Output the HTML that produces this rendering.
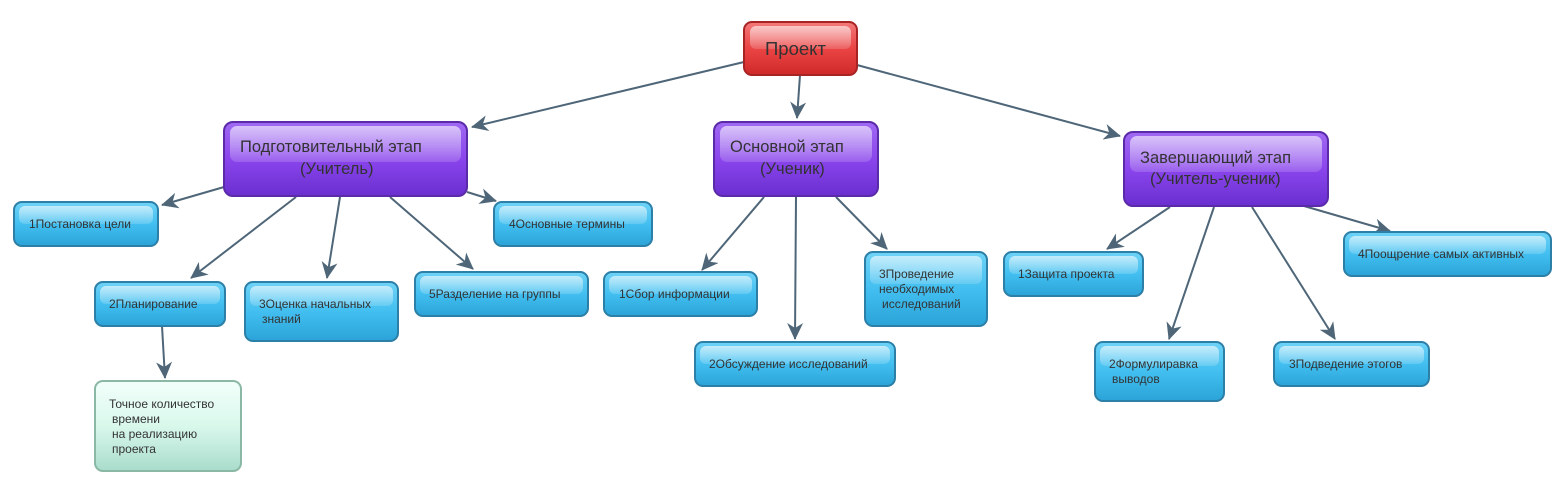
<!DOCTYPE html>
<html><head><meta charset="utf-8"><style>
html,body{margin:0;padding:0;background:#fff;}
svg{display:block;font-family:"Liberation Sans",sans-serif;}
.s{font-size:12px;fill:#333;}
.b{font-size:16.5px;fill:#333;}
</style></head><body>
<svg width="1562" height="482" viewBox="0 0 1562 482" xmlns="http://www.w3.org/2000/svg">
<defs>
<linearGradient id="gb" x1="0" y1="0" x2="0" y2="1"><stop offset="0" stop-color="#6fd3f7"/><stop offset="0.5" stop-color="#42bff0"/><stop offset="1" stop-color="#2ba3d8"/></linearGradient>
<linearGradient id="gp" x1="0" y1="0" x2="0" y2="1"><stop offset="0" stop-color="#a06af2"/><stop offset="0.5" stop-color="#8a45ec"/><stop offset="1" stop-color="#6a2fd0"/></linearGradient>
<linearGradient id="gr" x1="0" y1="0" x2="0" y2="1"><stop offset="0" stop-color="#f47a7a"/><stop offset="0.5" stop-color="#ea4444"/><stop offset="1" stop-color="#cf2a2a"/></linearGradient>
<linearGradient id="gg" x1="0" y1="0" x2="0" y2="1"><stop offset="0" stop-color="#f2fffa"/><stop offset="0.5" stop-color="#d9f8ec"/><stop offset="1" stop-color="#a9dccb"/></linearGradient>
<linearGradient id="hl" x1="0" y1="0" x2="0" y2="1"><stop offset="0" stop-color="#fff" stop-opacity="0.6"/><stop offset="1" stop-color="#fff" stop-opacity="0.15"/></linearGradient>
<marker id="ar" markerWidth="18" markerHeight="16" refX="16" refY="8" orient="auto" markerUnits="userSpaceOnUse"><path d="M0,0 L17,8 L0,16 L5,8 z" fill="#4e6678"/></marker>
</defs>
<g stroke="#4e6678" stroke-width="2" fill="none" marker-end="url(#ar)">
<line x1="744" y1="62" x2="472" y2="127"/>
<line x1="800" y1="75" x2="797" y2="118"/>
<line x1="857" y1="65" x2="1120" y2="136"/>
<line x1="224" y1="187" x2="162" y2="205"/>
<line x1="296" y1="197" x2="191" y2="278"/>
<line x1="340" y1="197" x2="327" y2="278"/>
<line x1="390" y1="197" x2="473" y2="269"/>
<line x1="467" y1="192" x2="496" y2="201"/>
<line x1="162" y1="326" x2="165" y2="378"/>
<line x1="764" y1="197" x2="702" y2="270"/>
<line x1="796" y1="197" x2="795" y2="339"/>
<line x1="836" y1="197" x2="887" y2="249"/>
<line x1="1170" y1="207" x2="1107" y2="249"/>
<line x1="1214" y1="207" x2="1169" y2="339"/>
<line x1="1252" y1="207" x2="1335" y2="339"/>
<line x1="1304" y1="206" x2="1390" y2="231"/>
</g>
<g>
<rect x="744" y="22" width="113" height="53" rx="8" fill="url(#gr)" stroke="#a82424" stroke-width="2"/>
<rect x="750" y="26" width="101" height="23" rx="6" fill="url(#hl)"/>
<text x="765" y="55" style="font-size:18.5px;fill:#333">Проект</text>

<rect x="224" y="122" width="243" height="74" rx="9" fill="url(#gp)" stroke="#5a2aa8" stroke-width="2"/>
<rect x="230" y="126" width="231" height="36" rx="7" fill="url(#hl)"/>
<text x="240" y="152" class="b">Подготовительный этап</text>
<text x="300" y="174" class="b">(Учитель)</text>

<rect x="714" y="122" width="164" height="74" rx="9" fill="url(#gp)" stroke="#5a2aa8" stroke-width="2"/>
<rect x="720" y="126" width="152" height="36" rx="7" fill="url(#hl)"/>
<text x="730" y="152" class="b">Основной этап</text>
<text x="760" y="174" class="b">(Ученик)</text>

<rect x="1124" y="132" width="204" height="74" rx="9" fill="url(#gp)" stroke="#5a2aa8" stroke-width="2"/>
<rect x="1130" y="136" width="192" height="36" rx="7" fill="url(#hl)"/>
<text x="1140" y="163" class="b">Завершающий этап</text>
<text x="1150" y="184" class="b">(Учитель-ученик)</text>

<g stroke="#2c7fa6" stroke-width="2" fill="url(#gb)">
<rect x="14" y="202" width="144" height="44" rx="8"/>
<rect x="95" y="282" width="130" height="44" rx="8"/>
<rect x="245" y="282" width="153" height="59" rx="8"/>
<rect x="415" y="272" width="173" height="44" rx="8"/>
<rect x="494" y="202" width="158" height="44" rx="8"/>
<rect x="604" y="272" width="153" height="44" rx="8"/>
<rect x="695" y="342" width="200" height="44" rx="8"/>
<rect x="865" y="252" width="122" height="74" rx="8"/>
<rect x="1004" y="252" width="139" height="44" rx="8"/>
<rect x="1095" y="342" width="129" height="59" rx="8"/>
<rect x="1274" y="342" width="155" height="44" rx="8"/>
<rect x="1344" y="232" width="207" height="44" rx="8"/>
</g>
<g fill="url(#hl)">
<rect x="19" y="206" width="134" height="18" rx="6"/>
<rect x="100" y="286" width="120" height="18" rx="6"/>
<rect x="250" y="286" width="143" height="20" rx="6"/>
<rect x="420" y="276" width="163" height="18" rx="6"/>
<rect x="499" y="206" width="148" height="18" rx="6"/>
<rect x="609" y="276" width="143" height="18" rx="6"/>
<rect x="700" y="346" width="190" height="18" rx="6"/>
<rect x="870" y="256" width="112" height="28" rx="6"/>
<rect x="1009" y="256" width="129" height="18" rx="6"/>
<rect x="1100" y="346" width="119" height="20" rx="6"/>
<rect x="1279" y="346" width="145" height="18" rx="6"/>
<rect x="1349" y="236" width="197" height="18" rx="6"/>
</g>
<text x="29" y="228" class="s">1Постановка цели</text>
<text x="109" y="308" class="s">2Планирование</text>
<text x="259" y="308" class="s">3Оценка начальных</text>
<text x="262" y="323" class="s">знаний</text>
<text x="429" y="298" class="s">5Разделение на группы</text>
<text x="509" y="228" class="s">4Основные термины</text>
<text x="619" y="298" class="s">1Сбор информации</text>
<text x="709" y="368" class="s">2Обсуждение исследований</text>
<text x="879" y="278" class="s">3Проведение</text>
<text x="879" y="293" class="s">необходимых</text>
<text x="882" y="308" class="s">исследований</text>
<text x="1018" y="278" class="s">1Защита проекта</text>
<text x="1109" y="368" class="s">2Формулиравка</text>
<text x="1112" y="383" class="s">выводов</text>
<text x="1289" y="368" class="s">3Подведение этогов</text>
<text x="1358" y="258" class="s">4Поощрение самых активных</text>

<rect x="95" y="381" width="146" height="90" rx="8" fill="url(#gg)" stroke="#8ab8a4" stroke-width="2"/>
<text x="109" y="408" class="s">Точное количество</text>
<text x="112" y="423" class="s">времени</text>
<text x="112" y="438" class="s">на реализацию</text>
<text x="112" y="453" class="s">проекта</text>
</g>
</svg>
</body></html>
